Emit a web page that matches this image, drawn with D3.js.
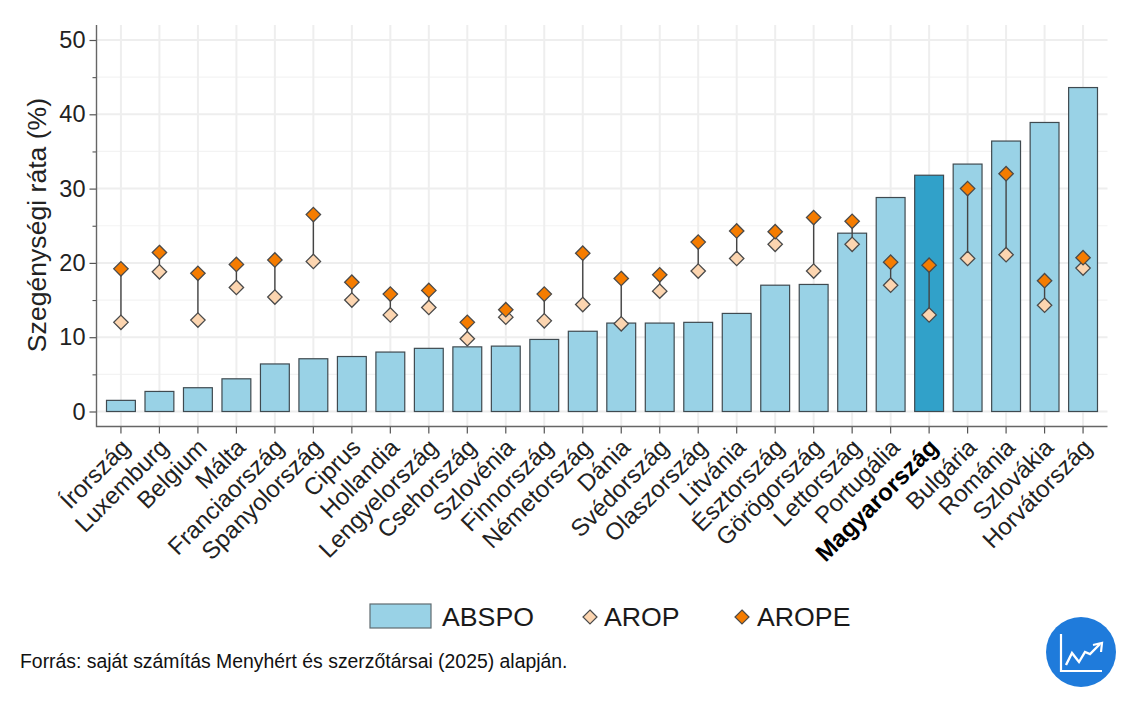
<!DOCTYPE html>
<html><head><meta charset="utf-8">
<script src="https://cdnjs.cloudflare.com/ajax/libs/d3/7.8.5/d3.min.js"></script>
<style>html,body{margin:0;padding:0;background:#fff}svg{display:block}text{font-family:"Liberation Sans",Arial,sans-serif;fill:#1a1a1a}</style>
</head><body><svg id="c" width="1125" height="701"></svg>
<script>
const countries=["Írország","Luxemburg","Belgium","Málta","Franciaország","Spanyolország","Ciprus","Hollandia","Lengyelország","Csehország","Szlovénia","Finnország","Németország","Dánia","Svédország","Olaszország","Litvánia","Észtország","Görögország","Lettország","Portugália","Magyarország","Bulgária","Románia","Szlovákia","Horvátország"];
const abspo=[1.5,2.7,3.2,4.4,6.4,7.1,7.4,8,8.5,8.7,8.8,9.7,10.8,11.9,11.9,12,13.2,17,17.1,24,28.8,31.8,33.3,36.4,38.9,43.6];
const arop=[12,18.8,12.3,16.7,15.4,20.2,15,13,14,9.8,12.7,12.2,14.4,11.8,16.2,18.9,20.6,22.5,18.9,22.5,17,13,20.6,21.1,14.3,19.3];
const arope=[19.2,21.4,18.6,19.8,20.4,26.5,17.4,15.8,16.3,12,13.7,15.8,21.3,17.9,18.4,22.8,24.3,24.2,26.1,25.6,20.1,19.7,30,32,17.6,20.7];
const yTicks=[0,10,20,30,40,50];
const yMinor=[5,15,25,35,45];
const highlight="Magyarország";
const legendItems=["ABSPO","AROP","AROPE"];
const source="Forrás: saját számítás Menyhért és szerzőtársai (2025) alapján.";
const yTitle="Szegénységi ráta (%)";

const svg=d3.select("#c");
const L=96.5,R=1107.5,T=25,B=426.5;
const y=d3.scaleLinear().domain([0,50]).range([411.5,40]);
const x=d3.scaleBand().domain(countries).range([L+5.2,R-5.2]).paddingInner(0.25).paddingOuter(0.125);
const cx=c=>x(c)+x.bandwidth()/2;

const grid=svg.append("g").attr("stroke","#eeeeee").attr("fill","none");
yMinor.forEach(v=>grid.append("line").attr("x1",L).attr("x2",R).attr("y1",y(v)).attr("y2",y(v)).attr("stroke-width",1.2).attr("stroke","#f3f3f3"));
yTicks.forEach(v=>grid.append("line").attr("x1",L).attr("x2",R).attr("y1",y(v)).attr("y2",y(v)).attr("stroke-width",2));
countries.forEach(c=>grid.append("line").attr("x1",cx(c)).attr("x2",cx(c)).attr("y1",T).attr("y2",B).attr("stroke-width",2));

svg.append("g").selectAll("rect").data(countries).join("rect")
 .attr("x",c=>x(c)).attr("width",x.bandwidth())
 .attr("y",(c,i)=>y(abspo[i])).attr("height",(c,i)=>y(0)-y(abspo[i]))
 .attr("fill",c=>c===highlight?"#31a1c9":"#99d2e6").attr("stroke","#3f4a50").attr("stroke-width",1.2);

svg.append("g").selectAll("line").data(countries).join("line")
 .attr("x1",cx).attr("x2",cx).attr("y1",(c,i)=>y(arop[i])).attr("y2",(c,i)=>y(arope[i]))
 .attr("stroke","#444").attr("stroke-width",1.4);

const diamond=(s)=>`M0,${-s}L${s},0L0,${s}L${-s},0Z`;
const mark=(arr,fill)=>svg.append("g").selectAll("path").data(countries).join("path")
 .attr("d",diamond(7.2)).attr("transform",(c,i)=>`translate(${cx(c)},${y(arr[i])})`)
 .attr("fill",fill).attr("stroke","#4a4a4a").attr("stroke-width",1.3);
mark(arop,"#fcd5b0");
mark(arope,"#f57c00");

const ax=svg.append("g").attr("transform",`translate(${L},0)`).call(d3.axisLeft(y).tickValues(yTicks).tickSize(7).tickPadding(4).tickFormat(d3.format("d")));
ax.select(".domain").remove();
ax.selectAll("line").attr("stroke","#555").attr("stroke-width",1.2);
ax.selectAll("text").attr("font-size",23.5).style("fill","#222");
const axm=svg.append("g").attr("transform",`translate(${L},0)`).call(d3.axisLeft(y).tickValues(yMinor).tickSize(4).tickFormat(""));
axm.select(".domain").remove();
axm.selectAll("line").attr("stroke","#555").attr("stroke-width",1.1);

const axb=svg.append("g").attr("transform",`translate(0,${B})`).call(d3.axisBottom(x).tickSize(7).tickSizeOuter(0));
axb.select(".domain").remove();
axb.selectAll("line").attr("stroke","#555").attr("stroke-width",1.2);
axb.selectAll("text").attr("font-size",24).attr("text-anchor","end").attr("dy",0).attr("y",0)
 .attr("transform","translate(-2,10) rotate(-45)").attr("dominant-baseline","hanging")
 .attr("font-weight",c=>c===highlight?"bold":"normal").style("fill",c=>c===highlight?"#000":"#222");
svg.append("path").attr("d",`M${L},${T}V${B}H${R}`).attr("fill","none").attr("stroke","#666").attr("stroke-width",1.4);

svg.append("text").attr("transform","translate(46,225) rotate(-90)").attr("text-anchor","middle").attr("font-size",26.6).style("fill","#222").text(yTitle);

// legend
const lg=svg.append("g");
lg.append("rect").attr("x",370).attr("y",604).attr("width",61).attr("height",24).attr("fill","#99d2e6").attr("stroke","#5f6b70").attr("stroke-width",1.2);
lg.append("text").attr("x",442).attr("y",626).attr("font-size",26.7).text(legendItems[0]);
lg.append("path").attr("d",diamond(7)).attr("transform","translate(590,617)").attr("fill","#fcd5b0").attr("stroke","#4a4a4a").attr("stroke-width",1.2);
lg.append("text").attr("x",604).attr("y",626).attr("font-size",26.7).text(legendItems[1]);
lg.append("path").attr("d",diamond(7)).attr("transform","translate(742,617)").attr("fill","#f57c00").attr("stroke","#4a4a4a").attr("stroke-width",1.2);
lg.append("text").attr("x",757).attr("y",626).attr("font-size",26.7).text(legendItems[2]);

svg.append("text").attr("x",20).attr("y",668).attr("font-size",19.4).style("fill","#111").text(source);

// logo
const logo=svg.append("g").attr("transform","translate(1081,652)");
logo.append("circle").attr("r",35).attr("fill","#1f7bdb");
logo.append("path").attr("d","M-20,-18V19H21").attr("fill","none").attr("stroke","#fff").attr("stroke-width",2.2);
logo.append("path").attr("d","M-15,13L-9,1L-2,10L4,0L9,2L19,-8").attr("fill","none").attr("stroke","#fff").attr("stroke-width",2.4);
logo.append("path").attr("d","M12,-7L21,-9L20,0").attr("fill","none").attr("stroke","#fff").attr("stroke-width",2.2);
</script></body></html>
